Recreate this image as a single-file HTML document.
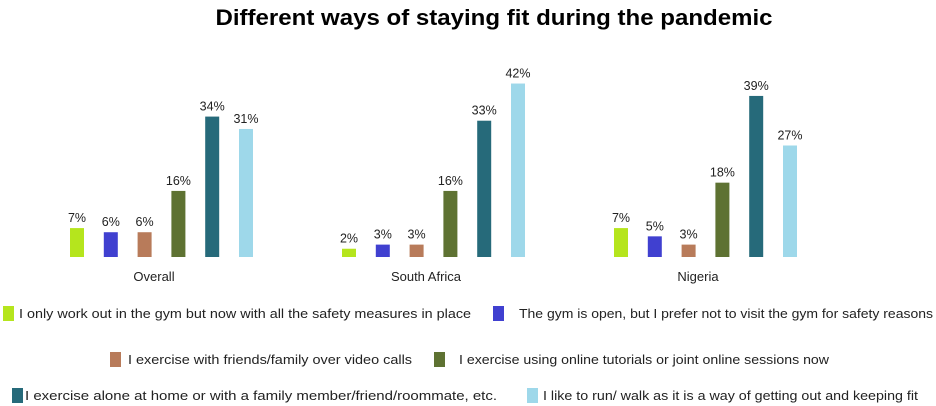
<!DOCTYPE html>
<html><head><meta charset="utf-8"><style>
body{margin:0;background:#fff;}
svg{display:block;font-family:"Liberation Sans",sans-serif;}
</style></head><body>
<svg id="chart" width="936" height="406">
<text x="494" y="25" text-anchor="middle" font-size="22" font-weight="bold" textLength="557" lengthAdjust="spacingAndGlyphs">Different ways of staying fit during the pandemic</text>
<g id="bars"></g>
<g id="legend"></g>
</svg>
<script>
const categories = ["Overall", "South Africa", "Nigeria"];
const seriesNames = [
 "I only work out in the gym but now with all the safety measures in place",
 "The gym is open, but I prefer not to visit the gym for safety reasons",
 "I exercise with friends/family over video calls",
 "I exercise using online tutorials or joint online sessions now",
 "I exercise alone at home or with a family member/friend/roommate, etc.",
 "I like to run/ walk as it is a way of getting out and keeping fit"
];
const overallValues = [7, 6, 6, 16, 34, 31];
const southAfricaValues = [2, 3, 3, 16, 33, 42];
const nigeriaValues = [7, 5, 3, 18, 39, 27];
const valueLabels = [["7%","6%","6%","16%","34%","31%"],["2%","3%","3%","16%","33%","42%"],["7%","5%","3%","18%","39%","27%"]];

const colors = ["#b5e51d","#4040d0","#b87b5a","#5e7232","#266a7a","#9ed8ea"];
const allValues = [overallValues, southAfricaValues, nigeriaValues];
const NS = "http://www.w3.org/2000/svg";
const baseY = 257, pxPer = 4.13;
function yScale(v){ return baseY - v * pxPer; }
function xScale(ci, si){ return 70 + ci * 272 + si * 33.8; }
const bars = document.getElementById("bars");
allValues.forEach((vals, ci) => {
  vals.forEach((v, si) => {
    const r = document.createElementNS(NS, "rect");
    r.setAttribute("x", xScale(ci, si));
    r.setAttribute("y", yScale(v));
    r.setAttribute("width", 14);
    r.setAttribute("height", baseY - yScale(v));
    r.setAttribute("fill", colors[si]);
    
    
    bars.appendChild(r);
    const t = document.createElementNS(NS, "text");
    t.setAttribute("x", xScale(ci, si) + 7);
    t.setAttribute("y", yScale(v) - 6);
    t.setAttribute("text-anchor", "middle");
    t.setAttribute("font-size", "12.5");
    t.setAttribute("fill", "#222");
    t.textContent = valueLabels[ci][si];
    
    
    bars.appendChild(t);
  });
  const c = document.createElementNS(NS, "text");
  c.setAttribute("x", xScale(ci, 0) + 84);
  c.setAttribute("y", 281);
  c.setAttribute("text-anchor", "middle");
  c.setAttribute("font-size", "13");
  c.setAttribute("fill", "#222");
  c.textContent = categories[ci];
  
  
  bars.appendChild(c);
});
const legendPos = [[3,306,19,471],[493,306,519,933],[110,352,128,412],[434,352,459,829],[12,388,25,497],[527,388,543,918]];
const legend = document.getElementById("legend");
seriesNames.forEach((name, i) => {
  const p = legendPos[i];
  const r = document.createElementNS(NS, "rect");
  r.setAttribute("x", p[0]); r.setAttribute("y", p[1]);
  r.setAttribute("width", 11); r.setAttribute("height", 15);
  r.setAttribute("fill", colors[i]);
  
  
  legend.appendChild(r);
  const t = document.createElementNS(NS, "text");
  t.setAttribute("x", p[2]); t.setAttribute("y", p[1] + 12);
  t.setAttribute("font-size", "13");
  t.setAttribute("fill", "#222");
  t.setAttribute("textLength", p[3] - p[2]);
  t.setAttribute("lengthAdjust", "spacingAndGlyphs");
  t.textContent = name;
  
  
  legend.appendChild(t);
});
</script>
</body></html>
